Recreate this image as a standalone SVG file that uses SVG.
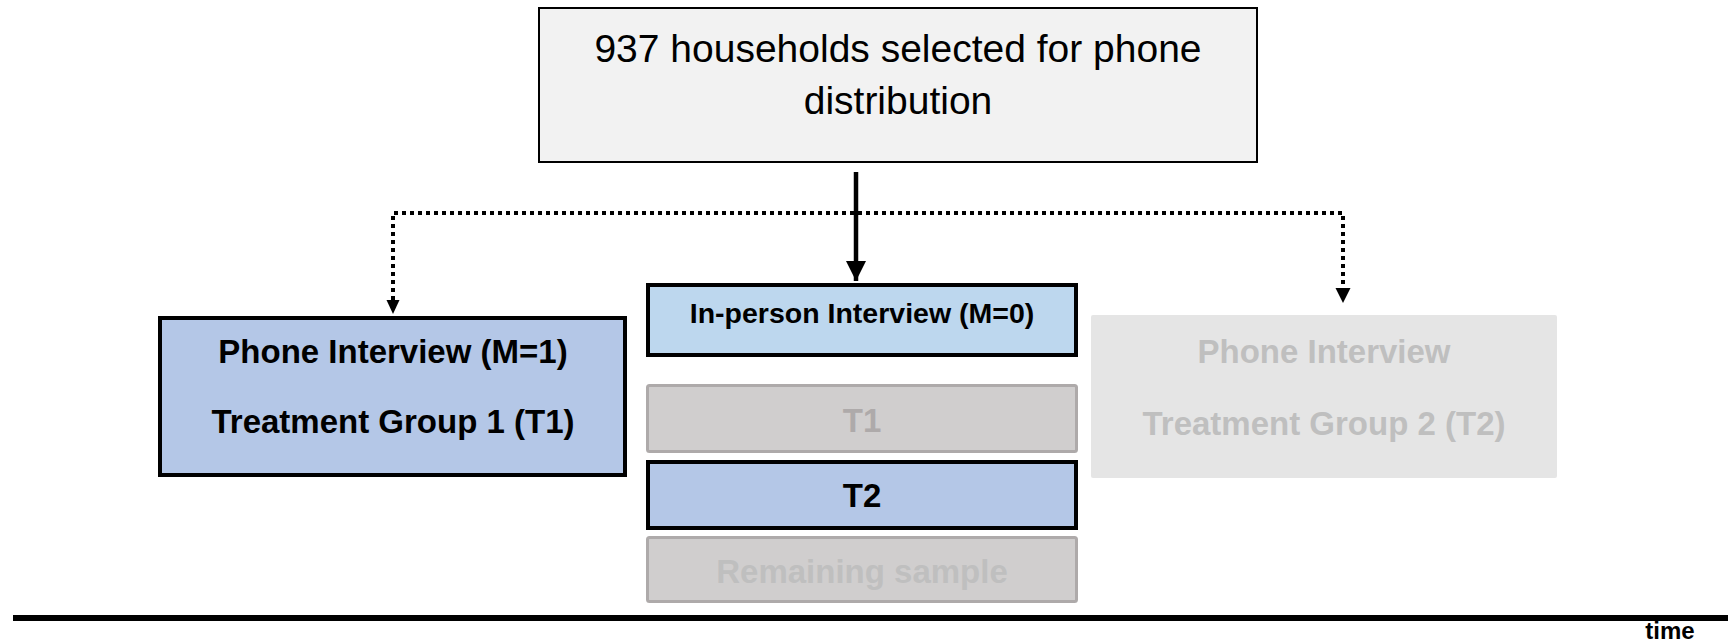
<svg xmlns="http://www.w3.org/2000/svg" width="1728" height="643" viewBox="0 0 1728 643">
  <style>
    text { font-family: "Liberation Sans", Arial, sans-serif; text-anchor: middle; }
    .title { font-size: 39px; fill: #000; }
    .lbl { font-size: 33px; font-weight: bold; fill: #000; }
    .lbls { font-size: 28.5px; font-weight: bold; fill: #000; }
    .dim { fill: #bfbfbf; }
    .dim1 { fill: #aeaaaa; }
    .blk { stroke: #000; stroke-width: 4; }
    .gry { fill: #d0cece; stroke: #aeaaaa; stroke-width: 3; }
    .dot { fill: none; stroke: #000; stroke-width: 4; stroke-dasharray: 4 4; }
  </style>
  <defs>
    <marker id="ah" viewBox="0 0 10 10" refX="10" refY="5" markerWidth="4.5" markerHeight="4.5" orient="auto" markerUnits="strokeWidth">
      <path d="M0,0 L10,5 L0,10 Z" fill="#000"/>
    </marker>
  </defs>
  <rect width="1728" height="643" fill="#fff"/>

  <g id="top">
    <rect x="539" y="8" width="718" height="154" fill="#f2f2f2" stroke="#000" stroke-width="2"/>
    <text class="title" x="898" y="62">937 households selected for phone</text>
    <text class="title" x="898" y="114">distribution</text>
  </g>

  <g id="connectors">
    <line x1="856" y1="172" x2="856" y2="281" stroke="#000" stroke-width="4.5" marker-end="url(#ah)"/>
    <polyline class="dot" points="393,300 393,213 1343,213 1343,288"/>
    <path d="M386.5,300 L399.5,300 L393,314 Z" fill="#000"/>
    <path d="M1335.5,288 L1350.5,288 L1343,303 Z" fill="#000"/>
    <line x1="13" y1="618" x2="1728" y2="618" stroke="#000" stroke-width="6"/>
  </g>

  <g id="phone1">
    <rect class="blk" x="160" y="318" width="465" height="157" fill="#b4c7e7"/>
    <text class="lbl" x="393" y="363">Phone Interview (M=1)</text>
    <text class="lbl" x="393" y="433">Treatment Group 1 (T1)</text>
  </g>

  <g id="inperson">
    <rect class="blk" x="648" y="285" width="428" height="70" fill="#bdd7ee"/>
    <text class="lbls" x="862" y="323">In-person Interview (M=0)</text>
  </g>

  <g id="t1">
    <rect class="gry" x="647.5" y="385.5" width="429" height="66" rx="2"/>
    <text class="lbl dim1" x="862" y="432">T1</text>
  </g>

  <g id="t2">
    <rect class="blk" x="648" y="462" width="428" height="66" fill="#b4c7e7"/>
    <text class="lbl" x="862" y="507">T2</text>
  </g>

  <g id="remaining">
    <rect class="gry" x="647.5" y="537.5" width="429" height="64" rx="2"/>
    <text class="lbl dim" x="862" y="583">Remaining sample</text>
  </g>

  <g id="phone2">
    <rect x="1091" y="315" width="466" height="163" rx="2" fill="#e5e5e5"/>
    <text class="lbl dim" x="1324" y="363">Phone Interview</text>
    <text class="lbl dim" x="1324" y="435">Treatment Group 2 (T2)</text>
  </g>

  <g id="timelabel">
    <text x="1670" y="639" font-size="24" font-weight="bold" fill="#000">time</text>
  </g>
</svg>
